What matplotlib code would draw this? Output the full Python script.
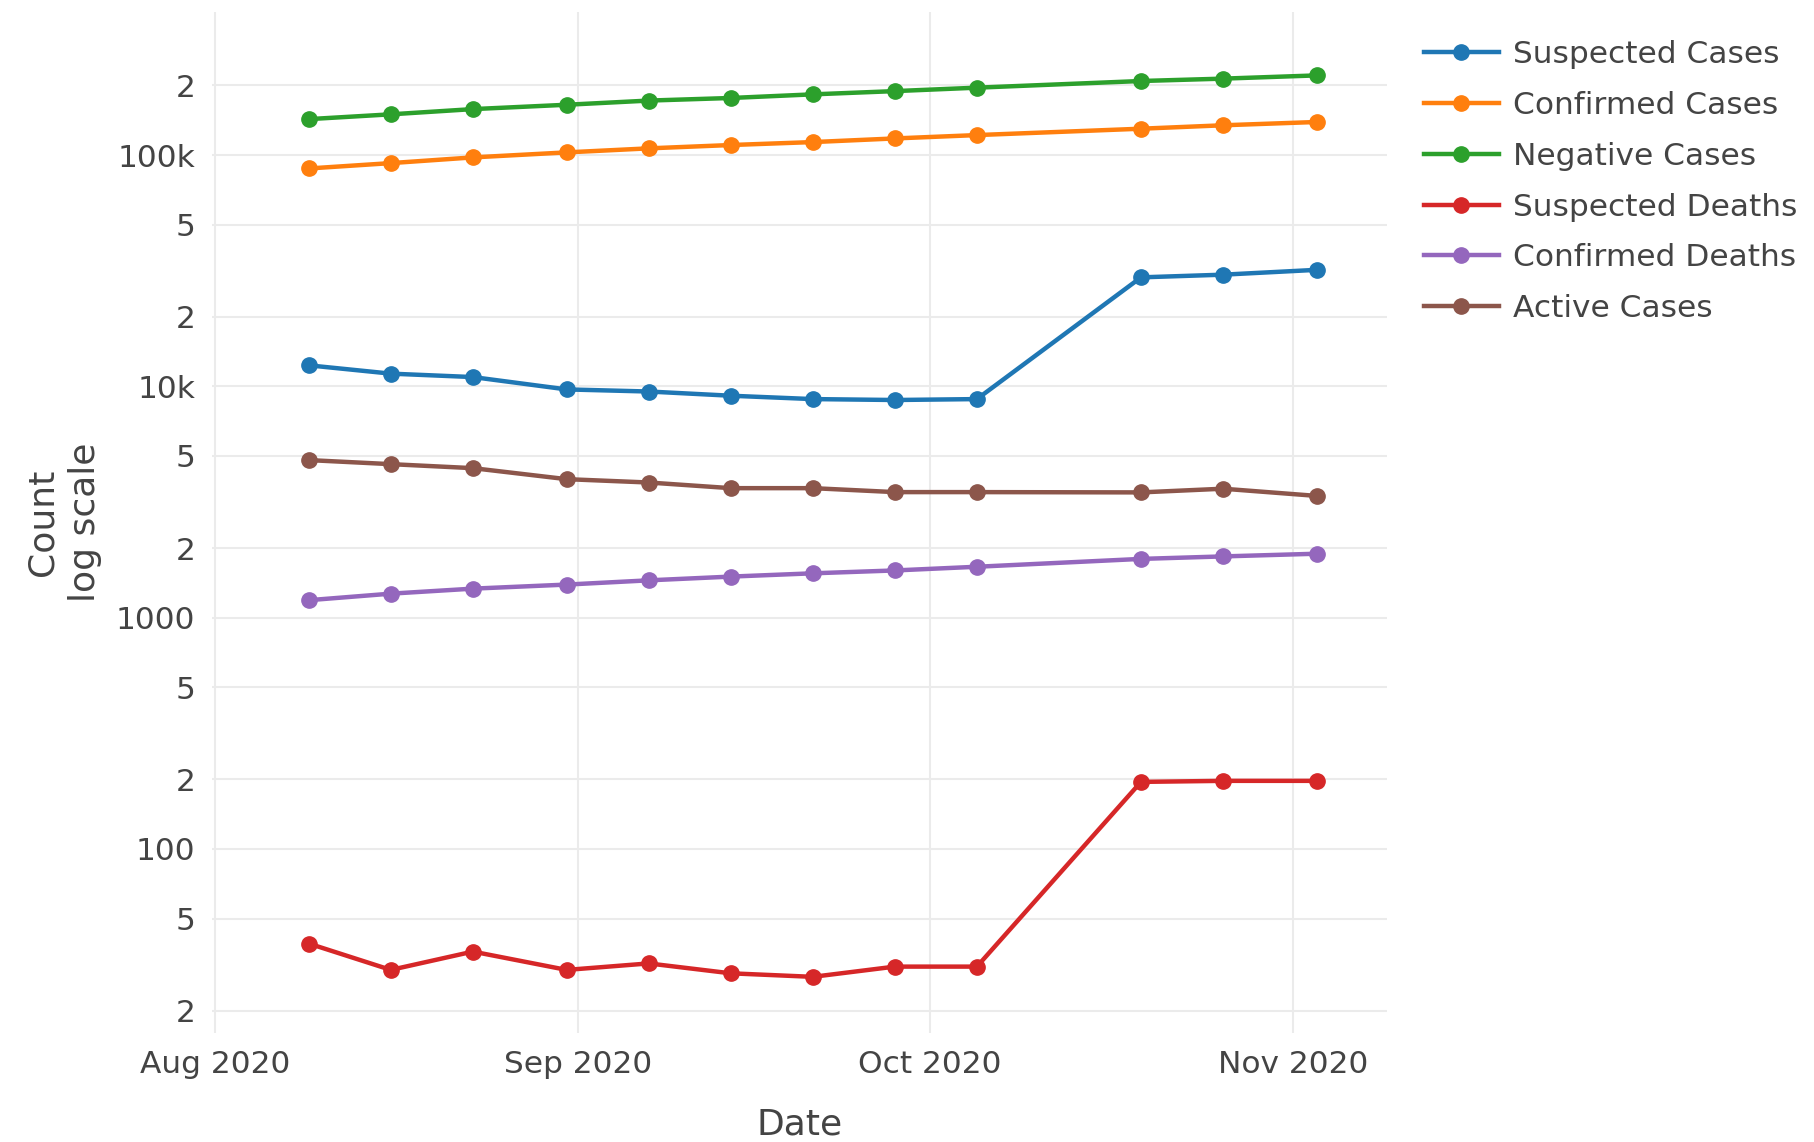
import pandas as pd
import matplotlib
matplotlib.use("Agg")
import matplotlib.pyplot as plt
import matplotlib.ticker as mticker
import matplotlib.dates as mdates

# weekly reporting dates
dates = ["2020-08-09", "2020-08-16", "2020-08-23", "2020-08-31", "2020-09-07", "2020-09-14",
         "2020-09-21", "2020-09-28", "2020-10-05", "2020-10-19", "2020-10-26", "2020-11-03"]

suspected_cases = [12330, 11350, 10970, 9700, 9500, 9110, 8810, 8730, 8810, 29600, 30400, 31900]
confirmed_cases = [87500, 92300, 97700, 102700, 106900, 110500, 113800, 118000, 122000, 130000, 134500, 139000]
negative_cases = [143000, 150000, 158000, 165000, 172000, 176500, 183000, 189000, 195600, 209000, 214000, 221000]
suspected_deaths = [39, 30, 36, 30, 32, 29, 28, 31, 31, 195, 197, 197]
confirmed_deaths = [1190, 1270, 1335, 1390, 1450, 1505, 1555, 1600, 1660, 1795, 1840, 1890]
active_cases = [4800, 4610, 4430, 3970, 3840, 3630, 3630, 3490, 3490, 3480, 3610, 3360]

series = [
    ("Suspected Cases", suspected_cases, "#1f77b4"),
    ("Confirmed Cases", confirmed_cases, "#ff7f0e"),
    ("Negative Cases", negative_cases, "#2ca02c"),
    ("Suspected Deaths", suspected_deaths, "#d62728"),
    ("Confirmed Deaths", confirmed_deaths, "#9467bd"),
    ("Active Cases", active_cases, "#8c564b"),
]

ytick_vals = [20, 50, 100, 200, 500, 1000, 2000, 5000, 10000, 20000, 50000, 100000, 200000]
ytick_labels = ["2", "5", "100", "2", "5", "1000", "2", "5", "10k", "2", "5", "100k", "2"]

plt.rcParams["font.family"] = ["DejaVu Sans"]
text_color = "#444444"

x = pd.to_datetime(dates)

fig = plt.figure(figsize=(18.14, 11.42), dpi=100)
ax = fig.add_axes([0.1169, 0.0954, 0.6478, 0.894])

for name, vals, color in series:
    ax.plot(x, vals, "-o", color=color, lw=3.2, ms=11, label=name)

ax.set_yscale("log")
ax.set_ylim(16, 415000)
ax.set_xlim(pd.Timestamp("2020-07-31 18:00"), pd.Timestamp("2020-11-09"))

ax.yaxis.set_major_locator(mticker.FixedLocator(ytick_vals))
ax.yaxis.set_major_formatter(mticker.FixedFormatter(ytick_labels))
ax.yaxis.set_minor_locator(mticker.NullLocator())
ax.xaxis.set_major_locator(mdates.MonthLocator())
ax.xaxis.set_major_formatter(mdates.DateFormatter("%b %Y"))

ax.grid(True, color="#ebebeb", lw=1.5)
ax.set_axisbelow(True)
for s in ax.spines.values():
    s.set_visible(False)
ax.tick_params(length=0, labelsize=22.5, colors=text_color, pad=12)

ax.set_xlabel("Date", fontsize=26, color=text_color, labelpad=21)
ax.set_ylabel("Count\nlog scale", fontsize=26, color=text_color, labelpad=10, linespacing=1.3)

fig.legend(loc="upper left", bbox_to_anchor=(0.778, 0.976), frameon=False, fontsize=22.5,
           handlelength=2.4, handletextpad=0.45, labelspacing=0.7, labelcolor=text_color,
           borderaxespad=0)

fig.savefig("out.png", dpi=100, facecolor="white")
